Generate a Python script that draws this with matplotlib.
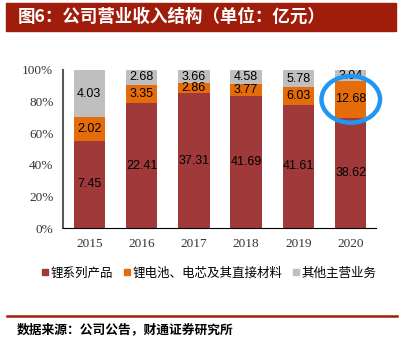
import numpy as np
import matplotlib.pyplot as plt
from matplotlib.patches import Rectangle, Ellipse
from matplotlib.lines import Line2D

years = ['2015', '2016', '2017', '2018', '2019', '2020']
lithium = [7.45, 22.41, 37.31, 41.69, 41.61, 38.62]
battery = [2.02, 3.35, 2.86, 3.77, 6.03, 12.68]
other = [4.03, 2.68, 3.66, 4.58, 5.78, 3.94]
series_names = ['锂系列产品', '锂电池、电芯及其直接材料', '其他主营业务']
colors = ['#A0393A', '#E46C0A', '#BFBFBF']

cjk = ['Noto Sans CJK SC', 'DejaVu Sans']

fig = plt.figure(figsize=(4.02, 3.37), dpi=100)
ax = fig.add_axes([0.157, 0.3234, 0.778, 0.469])

data = np.array([lithium, battery, other])
pct = data / data.sum(axis=0) * 100
x = np.arange(len(years))
bottom = np.zeros(len(years))
for i in range(3):
    ax.bar(x, pct[i], 0.6, bottom=bottom, color=colors[i], label=series_names[i])
    for j in range(len(years)):
        ax.text(x[j], bottom[j] + pct[i][j] / 2, '%.2f' % data[i][j],
                ha='center', va='center', fontsize=9, family='Liberation Sans', color='black')
    bottom += pct[i]

# 2020年电池业务圈出
cy = pct[0][5] + pct[1][5] / 2
ax.add_patch(Ellipse((x[5], cy), 1.12, 29.5, fill=False, edgecolor='#2196F3',
                     linewidth=3.2, clip_on=False, zorder=5))

ax.set_xlim(-0.5, 5.48)
ax.set_ylim(0, 100)
ax.set_yticks(range(0, 101, 20))
ax.set_yticklabels(['%d%%' % v for v in range(0, 101, 20)])
ax.set_xticks(x)
ax.set_xticklabels(years)
for lab in ax.get_xticklabels() + ax.get_yticklabels():
    lab.set_family('Liberation Serif')
    lab.set_fontsize(9.5)
    lab.set_color('#333333')
ax.tick_params(axis='both', length=0)
ax.tick_params(axis='x', pad=7)
ax.tick_params(axis='y', pad=7)
ax.spines['top'].set_visible(False)
ax.spines['right'].set_visible(False)
ax.spines['left'].set_color('#595959')
ax.spines['left'].set_linewidth(1.5)
ax.spines['bottom'].set_color('black')

handles = [Line2D([], [], marker='s', linestyle='', color=c, markersize=5) for c in colors]
fig.legend(handles, series_names, loc='center', bbox_to_anchor=(0.518, 0.19), ncol=3,
           frameon=False, prop={'family': cjk, 'size': 9}, handletextpad=0.05,
           columnspacing=0.7, handlelength=0.8)

# 标题栏
fig.patches.append(Rectangle((0.0149, 0.908), 0.970, 0.083, transform=fig.transFigure,
                             color='#A11D0B', zorder=0))
fig.text(0.045, 0.95, '图6：公司营业收入结构（单位：亿元）', color='white', fontsize=12.6,
         fontweight='bold', family=cjk, va='center', ha='left')

fig.add_artist(Line2D([0.017, 0.988], [0.0623, 0.0623], transform=fig.transFigure,
                      color='#A11D0B', linewidth=1.8))
fig.text(0.042, 0.021, '数据来源：公司公告，财通证券研究所', fontsize=9.2, fontweight='bold',
         family=cjk, va='center', ha='left')

plt.savefig('out.png', dpi=100)
